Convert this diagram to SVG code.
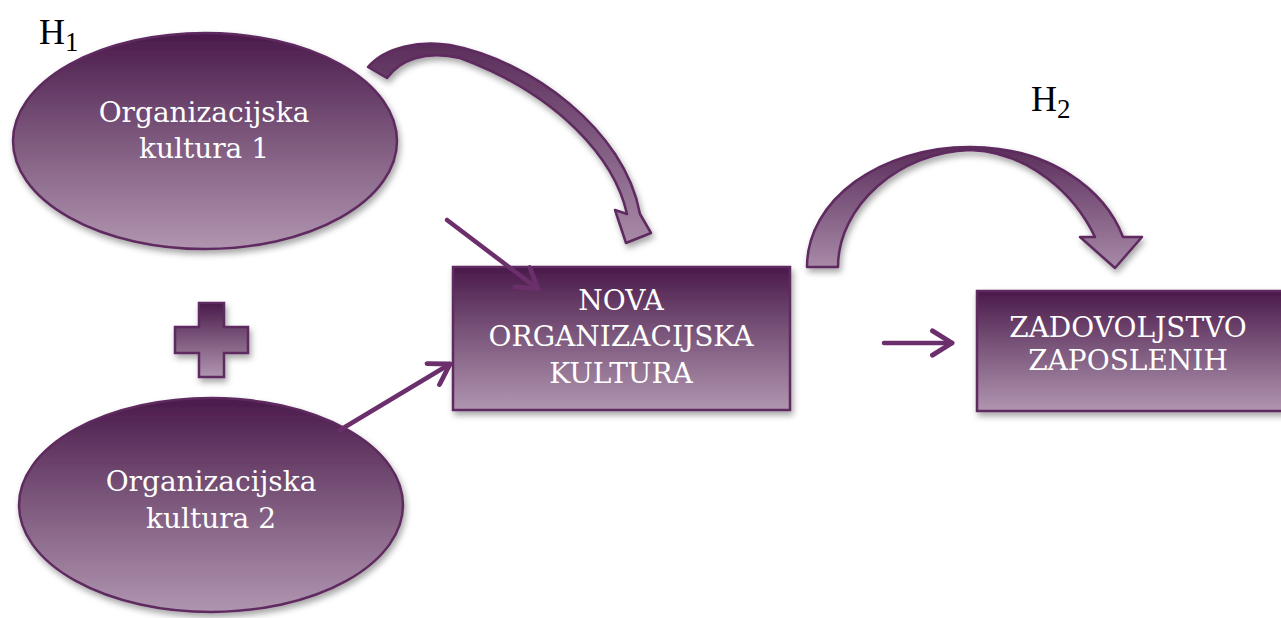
<svg xmlns="http://www.w3.org/2000/svg" width="1281" height="618" viewBox="0 0 1281 618">
<defs>
<linearGradient id="g" x1="0" y1="0" x2="0" y2="1">
<stop offset="0" stop-color="#4a1a4b"/>
<stop offset="0.5" stop-color="#7e5a7e"/>
<stop offset="1" stop-color="#b095b0"/>
</linearGradient>
<linearGradient id="ga" x1="0" y1="0" x2="0" y2="1">
<stop offset="0" stop-color="#5a2d5a"/>
<stop offset="1" stop-color="#a88aa8"/>
</linearGradient>
<filter id="sh" x="-20%" y="-20%" width="140%" height="140%">
<feDropShadow dx="2" dy="4" stdDeviation="3" flood-color="#000" flood-opacity="0.35"/>
</filter>
<marker id="ah" viewBox="0 0 12 12" refX="10" refY="6" markerWidth="6.5" markerHeight="6.5" orient="auto" markerUnits="strokeWidth">
<polyline points="2,1 10,6 2,11" fill="none" stroke="#6b2f6b" stroke-width="2" stroke-linecap="round" stroke-linejoin="round"/>
</marker>
</defs>
<style>
.shape{fill:url(#g);stroke:#5e2a5e;stroke-width:2.5;filter:url(#sh)}
.carrow{fill:url(#ga);stroke:#5e2a5e;stroke-width:2.5;stroke-linejoin:round;filter:url(#sh)}
.lbl{font-family:"DejaVu Serif","Liberation Serif",serif;fill:#fff;font-size:28px;text-anchor:middle}
.h{font-family:"Liberation Serif","Times New Roman",serif;fill:#000;font-size:36px}
.line{stroke:#6b2f6b;stroke-width:4.5;fill:none;stroke-linecap:round;marker-end:url(#ah)}
</style>
<text class="h" x="39" y="44">H<tspan font-size="27" dy="7">1</tspan></text>
<text class="h" x="1031" y="111">H<tspan font-size="27" dy="7">2</tspan></text>
<g id="ellipse1">
<ellipse class="shape" cx="205" cy="141" rx="192" ry="108"/>
<text class="lbl" x="204" y="122">Organizacijska</text>
<text class="lbl" x="204" y="158">kultura 1</text>
</g>
<g id="plus">
<path class="shape" d="M199,303 H224 V327 H248 V353 H224 V377 H199 V353 H175 V327 H199 Z"/>
</g>
<g id="ellipse2">
<ellipse class="shape" cx="211" cy="505" rx="192" ry="107"/>
<text class="lbl" x="211" y="491">Organizacijska</text>
<text class="lbl" x="211" y="528">kultura 2</text>
</g>
<g id="nova">
<rect class="shape" x="453" y="267" width="337" height="143"/>
<text class="lbl" x="621" y="310">NOVA</text>
<text class="lbl" x="621" y="346">ORGANIZACIJSKA</text>
<text class="lbl" x="621" y="383">KULTURA</text>
</g>
<g id="zadovoljstvo">
<rect class="shape" x="977" y="291" width="310" height="120"/>
<text class="lbl" x="1128" y="337">ZADOVOLJSTVO</text>
<text class="lbl" x="1128" y="370">ZAPOSLENIH</text>
</g>
<g id="connectors">
<path class="carrow" d="M368,67 C385,47 420,40 450,45 C530,60 625,130 640,214 L651,233 L626,243 L615,210 L627,214 C615,160 560,95 460,58 C425,50 400,60 387,78 Z"/>
<path class="carrow" d="M807,267 C807,200 880,147 970,147 C1050,147 1105,190 1123,237 L1142,237 L1115,268 L1080,237 L1095,237 C1075,195 1030,152 970,150 C900,152 838,205 838,267 Z"/>
<line class="line" x1="447" y1="220" x2="538" y2="289"/>
<line class="line" x1="340" y1="430" x2="450" y2="364"/>
<line class="line" x1="884" y1="343" x2="952" y2="343"/>
</g>
</svg>
